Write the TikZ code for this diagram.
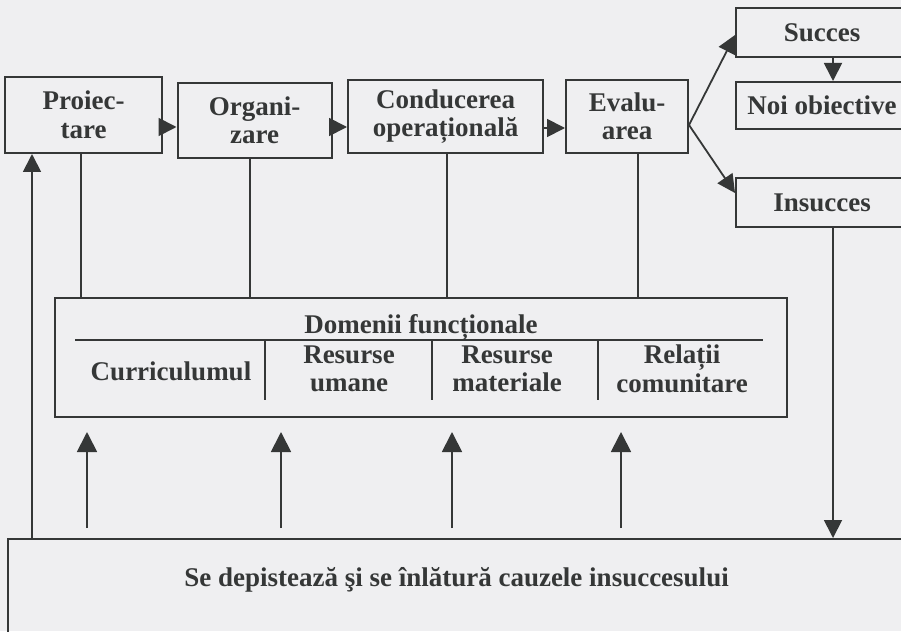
\documentclass[tikz,border=0pt]{standalone}
\usepackage{fontspec}
\setmainfont{Liberation Serif}
\usetikzlibrary{arrows.meta}
\definecolor{ink}{HTML}{353737}
\definecolor{txt}{HTML}{353737}
\definecolor{paper}{HTML}{EFEFF1}
\begin{document}
\begin{tikzpicture}[x=1pt,y=-1pt,
  box/.style={draw=ink, line width=2pt, rectangle, inner sep=0pt, align=center, text=txt,
              font=\bfseries\fontsize{27}{28.5}\selectfont},
  lbl/.style={text=txt, inner sep=0pt, align=center, font=\bfseries\fontsize{27}{28.5}\selectfont},
  arr/.style={draw=ink, line width=1.8pt, -{Triangle[length=18pt,width=18pt]}},
  bigarr/.style={draw=ink, line width=1.8pt, -{Triangle[length=20pt,width=20pt]}},
  ln/.style={draw=ink, line width=1.8pt}]
\fill[paper] (0,0) rectangle (901,631);
\useasboundingbox (0,0) rectangle (901,631);
\clip (0,0) rectangle (901,631);

% top row
\node[box, minimum width=157pt, minimum height=76pt] (pro) at (83.5,115) {Proiec-\\tare};
\node[box, minimum width=154pt, minimum height=75pt] (org) at (254.5,120.5) {Organi-\\zare};
\node[box, minimum width=195pt, minimum height=73pt] (con) at (445.5,116.5) {Conducerea\\operațională};
\node[box, minimum width=122pt, minimum height=73pt] (eva) at (627,116.5) {Evalu-\\area};
\node[box, minimum width=172pt, minimum height=49pt] (suc) at (822,32.5) {Succes};
\node[box, minimum width=172pt, minimum height=47pt] (noi) at (822,105.5) {Noi obiective};
\node[box, minimum width=172pt, minimum height=49pt] (ins) at (822,202.5) {Insucces};

% functional domains
\node[box, minimum width=732pt, minimum height=119pt] (dom) at (421,357.5) {};
\node[lbl, anchor=base] (domt) at (421,333) {Domenii funcționale};
\coordinate (dl) at (75,340);
\coordinate (dr) at (763,340);
\draw[ln] (dl) -- (dr);
\coordinate (v1) at (265,340);
\coordinate (v2) at (432,340);
\coordinate (v3) at (598,340);
\foreach \v in {v1,v2,v3} \draw[ln] (\v) -- ++(0,60);
\node[lbl, anchor=base] (cur) at (171,380) {Curriculumul};
\node[lbl] (uma) at (349,369) {Resurse\\umane};
\node[lbl] (mat) at (507,369) {Resurse\\materiale};
\node[lbl] (rel) at (682,369) {Relații\\comunitare};

% bottom box
\node[box, anchor=north west, minimum width=899pt, minimum height=120pt] (se) at (7,538) {};
\node[lbl, anchor=base] (setx) at (456.5,586) {Se depistează şi se înlătură cauzele insuccesului};

% connectors top row
\draw[arr] ([yshift=-12pt]pro.east) -- ([yshift=-12pt]pro.east -| org.west);
\draw[arr] ([yshift=-6.5pt]org.east) -- ([yshift=-6.5pt]org.east -| con.west);
\draw[arr] ([yshift=-11.5pt]con.east) -- ([yshift=-11.5pt]con.east -| eva.west);
\coordinate (es) at ([yshift=-8.5pt]eva.east);
\draw[arr] (es) -- ([yshift=-2.5pt]suc.west);
\draw[arr] (es) -- ([yshift=9.5pt]ins.west);
\draw[arr] ([xshift=11pt]suc.south) -- ([xshift=11pt]noi.north);
\draw[arr] ([xshift=11pt]ins.south) -- ([xshift=11pt]ins.south |- se.north);

% lines down to domains
\draw[ln] ([xshift=-2.5pt]pro.south) -- ([xshift=-2.5pt]pro.south |- dom.north);
\draw[ln] ([xshift=-4.5pt]org.south) -- ([xshift=-4.5pt]org.south |- dom.north);
\draw[ln] ([xshift=1.5pt]con.south) -- ([xshift=1.5pt]con.south |- dom.north);
\draw[ln] ([xshift=11pt]eva.south) -- ([xshift=11pt]eva.south |- dom.north);

% feedback line on the left
\coordinate (lx) at (32,0);
\draw[arr] (se.north -| lx) -- (pro.south -| lx);

% upward arrows
\coordinate (a1) at (87,0);
\coordinate (a2) at (281,0);
\coordinate (a3) at (452,0);
\coordinate (a4) at (621,0);
\foreach \a in {a1,a2,a3,a4}
  \draw[bigarr, shorten <=10pt, shorten >=14pt] (se.north -| \a) -- (dom.south -| \a);
\end{tikzpicture}
\end{document}
